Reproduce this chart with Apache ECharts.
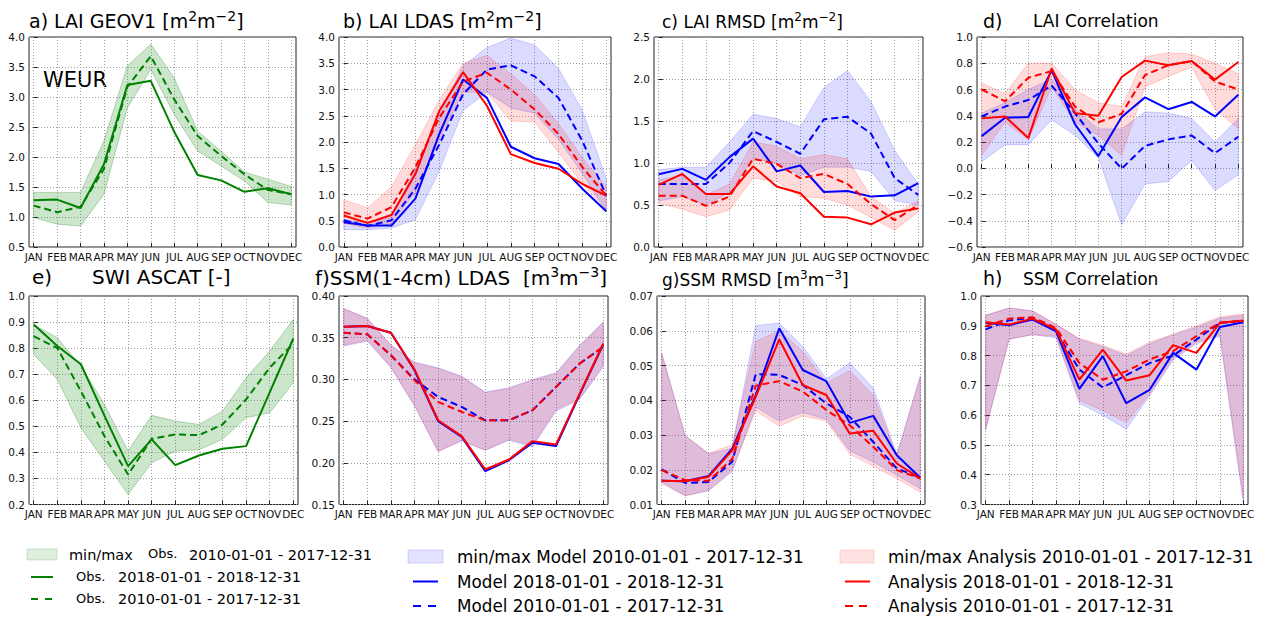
<!DOCTYPE html>
<html>
<head>
<meta charset="utf-8">
<script src="https://cdn.jsdelivr.net/npm/echarts@6/dist/echarts.min.js"></script>
<style>html,body{margin:0;padding:0;background:#fff;}#main{width:1263px;height:618px;}</style>
</head>
<body>
<div id="main"></div>
<script>
const MONTHS = ['JAN','FEB','MAR','APR','MAY','JUN','JUL','AUG','SEP','OCT','NOV','DEC'];

// a) LAI GEOV1
const aObsMin  = [0.99,0.88,0.85,1.38,2.82,3.46,2.71,2.10,1.85,1.60,1.24,1.20];
const aObsMax  = [1.41,1.41,1.41,2.27,3.52,3.88,3.32,2.43,2.10,1.75,1.63,1.51];
const aObs2018 = [1.28,1.29,1.15,1.88,3.20,3.27,2.42,1.70,1.61,1.42,1.48,1.38];
const aObsClim = [1.19,1.08,1.17,1.80,3.17,3.68,2.96,2.35,2.02,1.71,1.45,1.38];

// b) LAI LDAS
const bModMin  = [0.33,0.33,0.36,0.52,1.45,2.60,2.95,2.65,2.55,2.05,1.40,0.68];
const bModMax  = [0.52,0.47,0.56,1.50,2.50,3.45,3.80,3.98,3.85,3.40,2.60,1.30];
const bAnaMin  = [0.45,0.36,0.45,1.05,2.05,2.95,2.95,2.40,2.38,1.80,1.20,0.72];
const bAnaMax  = [0.90,0.75,1.15,1.95,2.80,3.50,3.65,3.30,2.90,2.35,1.70,1.15];
const bMod2018 = [0.47,0.41,0.41,0.92,2.15,3.19,2.84,1.91,1.69,1.58,1.11,0.68];
const bModClim = [0.51,0.40,0.51,1.11,1.95,2.91,3.38,3.46,3.25,2.84,2.02,0.98];
const bAna2018 = [0.60,0.46,0.61,1.39,2.59,3.33,2.69,1.77,1.60,1.49,1.20,0.98];
const bAnaClim = [0.66,0.54,0.76,1.52,2.46,3.15,3.32,3.00,2.62,2.15,1.52,0.98];

// c) LAI RMSD
const cModMin  = [0.55,0.60,0.50,0.65,1.05,1.00,0.85,0.95,0.95,0.90,0.55,0.50];
const cModMax  = [0.92,0.95,0.95,1.25,1.58,1.53,1.43,1.90,2.10,1.73,1.15,0.75];
const cAnaMin  = [0.52,0.45,0.36,0.44,0.82,0.78,0.60,0.58,0.50,0.35,0.20,0.42];
const cAnaMax  = [0.80,0.85,0.62,0.75,1.25,1.20,1.05,1.10,1.05,0.60,0.40,0.55];
const cMod2018 = [0.865,0.93,0.80,1.07,1.29,0.90,0.97,0.655,0.667,0.60,0.615,0.76];
const cModClim = [0.75,0.75,0.75,1.00,1.38,1.25,1.11,1.52,1.55,1.35,0.82,0.62];
const cAna2018 = [0.74,0.87,0.63,0.63,0.96,0.72,0.64,0.36,0.35,0.27,0.41,0.46];
const cAnaClim = [0.61,0.61,0.49,0.60,1.05,0.99,0.82,0.87,0.75,0.51,0.32,0.50];

// d) LAI Correlation
const dModMin  = [0.05,0.18,0.18,0.37,0.25,0.08,-0.43,-0.12,-0.10,0.06,-0.17,-0.05];
const dModMax  = [0.42,0.50,0.60,0.68,0.45,0.30,0.30,0.43,0.42,0.38,0.20,0.38];
const dAnaMin  = [0.10,0.35,0.22,0.62,0.35,0.25,0.10,0.62,0.70,0.77,0.45,0.30];
const dAnaMax  = [0.65,0.57,0.80,0.80,0.60,0.50,0.47,0.85,0.88,0.87,0.80,0.72];
const dMod2018 = [0.245,0.385,0.39,0.746,0.335,0.093,0.39,0.54,0.45,0.505,0.395,0.56];
const dModClim = [0.395,0.47,0.52,0.63,0.42,0.19,-0.003,0.17,0.22,0.25,0.115,0.24];
const dAna2018 = [0.38,0.395,0.23,0.76,0.42,0.40,0.695,0.82,0.785,0.817,0.675,0.81];
const dAnaClim = [0.60,0.51,0.69,0.74,0.47,0.35,0.415,0.71,0.785,0.817,0.66,0.60];

// e) SWI ASCAT
const eObsMin  = [0.776,0.68,0.494,0.366,0.238,0.36,0.405,0.41,0.45,0.533,0.552,0.667];
const eObsMax  = [0.89,0.84,0.73,0.584,0.405,0.542,0.52,0.507,0.558,0.686,0.789,0.91];
const eObs2018 = [0.891,0.808,0.738,0.54,0.347,0.45,0.351,0.388,0.414,0.424,0.63,0.837];
const eObsClim = [0.846,0.80,0.635,0.462,0.315,0.452,0.469,0.466,0.507,0.603,0.725,0.817];

// f) SSM(1-4cm) LDAS
const fModMin  = [0.340,0.346,0.314,0.268,0.214,0.226,0.215,0.227,0.219,0.262,0.276,0.315];
const fModMax  = [0.385,0.373,0.341,0.321,0.314,0.304,0.285,0.290,0.300,0.308,0.341,0.369];
const fAnaMin  = [0.341,0.347,0.315,0.269,0.213,0.227,0.215,0.228,0.221,0.264,0.277,0.317];
const fAnaMax  = [0.385,0.373,0.341,0.320,0.313,0.303,0.284,0.289,0.299,0.307,0.340,0.368];
const fMod2018 = [0.363,0.364,0.356,0.311,0.250,0.231,0.190,0.203,0.224,0.220,0.282,0.342];
const fModClim = [0.356,0.354,0.329,0.300,0.279,0.267,0.251,0.251,0.263,0.291,0.319,0.339];
const fAna2018 = [0.363,0.364,0.356,0.312,0.251,0.232,0.192,0.204,0.226,0.222,0.283,0.343];
const fAnaClim = [0.356,0.354,0.329,0.299,0.273,0.261,0.251,0.251,0.263,0.291,0.319,0.339];

// g) SSM RMSD
const gModMin  = [0.0165,0.0125,0.0140,0.0195,0.0380,0.0340,0.0365,0.0345,0.0255,0.0222,0.0185,0.0145];
const gModMax  = [0.0535,0.0298,0.0245,0.0262,0.0615,0.0622,0.0555,0.0462,0.0507,0.0435,0.0245,0.0470];
const gAnaMin  = [0.0160,0.0125,0.0140,0.0200,0.0370,0.0325,0.0355,0.0340,0.0245,0.0210,0.0175,0.0135];
const gAnaMax  = [0.0535,0.0298,0.0248,0.0272,0.0570,0.0600,0.0540,0.0450,0.0485,0.0415,0.0240,0.0465];
const gMod2018 = [0.0168,0.0167,0.0182,0.0261,0.0415,0.0607,0.0487,0.0455,0.0335,0.0355,0.0242,0.0177];
const gModClim = [0.0201,0.0162,0.0165,0.0223,0.0475,0.0473,0.0444,0.0391,0.0352,0.0280,0.0204,0.0177];
const gAna2018 = [0.0168,0.0167,0.0180,0.0256,0.0410,0.0575,0.0444,0.0415,0.0304,0.0312,0.0218,0.0175];
const gAnaClim = [0.0199,0.0170,0.0168,0.0231,0.0442,0.0455,0.0425,0.0372,0.0328,0.0266,0.0199,0.0175];

// h) SSM Correlation
const hModMin  = [0.550,0.855,0.870,0.860,0.640,0.600,0.553,0.665,0.785,0.840,0.865,0.305];
const hModMax  = [0.935,0.960,0.950,0.905,0.855,0.830,0.800,0.840,0.870,0.895,0.925,0.935];
const hAnaMin  = [0.555,0.855,0.870,0.865,0.650,0.615,0.575,0.670,0.790,0.845,0.870,0.320];
const hAnaMax  = [0.935,0.960,0.950,0.905,0.858,0.835,0.805,0.845,0.872,0.900,0.930,0.940];
const hMod2018 = [0.910,0.902,0.921,0.882,0.688,0.798,0.640,0.685,0.809,0.753,0.896,0.912];
const hModClim = [0.888,0.918,0.927,0.882,0.753,0.693,0.734,0.775,0.800,0.854,0.910,0.916];
const hAna2018 = [0.912,0.904,0.924,0.888,0.719,0.820,0.716,0.734,0.835,0.809,0.910,0.918];
const hAnaClim = [0.899,0.924,0.929,0.893,0.775,0.719,0.747,0.787,0.815,0.865,0.910,0.916];

// ---------- styling / layout ----------
const FONT = '"DejaVu Sans", sans-serif';
const COL = {g:'rgb(0,128,0)', b:'#0000ff', r:'#ff0000'};
const BAND = {
  g:{fill:'rgba(0,128,0,0.2)', stroke:'rgba(0,110,0,0.25)'},
  b:{fill:'rgba(0,0,255,0.14)', stroke:'rgba(0,0,255,0.16)'},
  r:{fill:'rgba(255,0,0,0.14)', stroke:'rgba(255,0,0,0.16)'}
};
const PATCH = {
  g:{fill:'rgba(0,128,0,0.13)', stroke:'rgba(0,110,0,0.15)'},
  b:{fill:'rgba(0,0,255,0.11)', stroke:'rgba(0,0,255,0.14)'},
  r:{fill:'rgba(255,0,0,0.11)', stroke:'rgba(255,0,0,0.14)'}
};
const DASH = [7,4];

const panels = [
  {grid:{left:29,top:37,width:267,height:210}, ymin:0.5, ymax:4.0, yint:0.5, dec:1,
   bands:[[aObsMin,aObsMax,'g']], lines:[[aObs2018,'g',false],[aObsClim,'g',true]]},
  {grid:{left:339,top:37,width:272,height:210}, ymin:0, ymax:4.0, yint:0.5, dec:1,
   bands:[[bModMin,bModMax,'b'],[bAnaMin,bAnaMax,'r']],
   lines:[[bMod2018,'b',false],[bModClim,'b',true],[bAna2018,'r',false],[bAnaClim,'r',true]]},
  {grid:{left:654,top:37,width:269,height:210}, ymin:0, ymax:2.5, yint:0.5, dec:1,
   bands:[[cModMin,cModMax,'b'],[cAnaMin,cAnaMax,'r']],
   lines:[[cMod2018,'b',false],[cModClim,'b',true],[cAna2018,'r',false],[cAnaClim,'r',true]]},
  {grid:{left:977,top:37,width:266,height:210}, ymin:-0.6, ymax:1.0, yint:0.2, dec:1,
   bands:[[dModMin,dModMax,'b'],[dAnaMin,dAnaMax,'r']],
   lines:[[dMod2018,'b',false],[dModClim,'b',true],[dAna2018,'r',false],[dAnaClim,'r',true]]},
  {grid:{left:29,top:296,width:269,height:208.5}, ymin:0.2, ymax:1.0, yint:0.1, dec:1,
   bands:[[eObsMin,eObsMax,'g']], lines:[[eObs2018,'g',false],[eObsClim,'g',true]]},
  {grid:{left:339,top:296,width:269,height:208.5}, ymin:0.15, ymax:0.40, yint:0.05, dec:2,
   bands:[[fModMin,fModMax,'b'],[fAnaMin,fAnaMax,'r']],
   lines:[[fMod2018,'b',false],[fModClim,'b',true],[fAna2018,'r',false],[fAnaClim,'r',true]]},
  {grid:{left:657,top:296,width:268,height:208.5}, ymin:0.01, ymax:0.07, yint:0.01, dec:2,
   bands:[[gModMin,gModMax,'b'],[gAnaMin,gAnaMax,'r']],
   lines:[[gMod2018,'b',false],[gModClim,'b',true],[gAna2018,'r',false],[gAnaClim,'r',true]]},
  {grid:{left:981,top:296,width:267,height:208.5}, ymin:0.3, ymax:1.0, yint:0.1, dec:1,
   bands:[[hModMin,hModMax,'b'],[hAnaMin,hAnaMax,'r']],
   lines:[[hMod2018,'b',false],[hModClim,'b',true],[hAna2018,'r',false],[hAnaClim,'r',true]]}
];

const monthIdx = MONTHS.map((m,i)=>i);
const grids = [], xAxes = [], yAxes = [], series = [];

panels.forEach((p, k) => {
  grids.push(Object.assign({show:true, borderColor:'#222', borderWidth:1, backgroundColor:'transparent'}, p.grid));
  xAxes.push({
    gridIndex:k, type:'value', min:-0.2, max:11.2,
    axisLine:{show:false},
    axisTick:{show:true, inside:true, length:4, customValues:monthIdx, lineStyle:{color:'#222'}},
    axisLabel:{customValues:monthIdx, formatter:v=>MONTHS[Math.round(v)], fontSize:10.5, fontFamily:FONT, color:'#111', margin:4},
    splitLine:{show:true, lineStyle:{color:'#a0a0a0', type:[1,2], width:1}}
  });
  yAxes.push({
    gridIndex:k, type:'value', min:p.ymin, max:p.ymax, interval:p.yint,
    axisLine:{show:false},
    axisTick:{show:true, inside:true, length:4, lineStyle:{color:'#222'}},
    axisLabel:{formatter:v=>(v<-1e-9?'\u2212':'')+Math.abs(v).toFixed(p.dec), fontSize:10.5, fontFamily:FONT, color:'#111', margin:4},
    splitLine:{show:true, lineStyle:{color:'#a0a0a0', type:[1,2], width:1}}
  });
  p.bands.forEach(([lo, hi, c]) => {
    series.push({
      type:'custom', xAxisIndex:k, yAxisIndex:k, silent:true, z:1,
      data: monthIdx.map(i => [i, lo[i], hi[i]]),
      encode:{x:0, y:[1,2]},
      renderItem: function(params, api) {
        if (params.dataIndex !== 0) return null;
        const pts = [];
        for (let i = 0; i < lo.length; i++) pts.push(api.coord([i, hi[i]]));
        for (let i = lo.length - 1; i >= 0; i--) pts.push(api.coord([i, lo[i]]));
        return {type:'polygon', shape:{points:pts}, style:{fill:BAND[c].fill, stroke:BAND[c].stroke, lineWidth:1}};
      }
    });
  });
  p.lines.forEach(([arr, c, dashed]) => {
    series.push({
      type:'line', xAxisIndex:k, yAxisIndex:k, silent:true, z:3,
      data: arr.map((v,i)=>[i,v]), symbol:'none',
      lineStyle:{color:COL[c], width:2, type: dashed ? DASH : 'solid'}
    });
  });
});

// ---------- titles, annotation, legend (graphic) ----------
function txt(x, y, s, size, rich) {
  const st = {text:s, font: size + 'px ' + FONT, fill:'#000', align:'left', verticalAlign:'middle'};
  if (rich) {
    st.lineHeight = Math.round(size * 1.3);
    st.rich = {
      s:{fontSize: Math.round(size * 0.72), fontFamily: FONT, verticalAlign:'top', fill:'#000', lineHeight: Math.round(size*0.9)}
    };
  }
  return {type:'text', x:x, y:y, silent:true, style:st};
}
const g = [];
g.push(txt(29, 21, 'a) LAI GEOV1 [m{s|2}m{s|\u22122}]', 19, true));
g.push(txt(343, 21, 'b) LAI LDAS [m{s|2}m{s|\u22122}]', 19, true));
g.push(txt(662, 22, 'c) LAI RMSD [m{s|2}m{s|\u22122}]', 17, true));
g.push(txt(983, 20.5, 'd)', 19));
g.push(txt(1033, 21, 'LAI Correlation', 17));
g.push(txt(32, 277, 'e)', 20));
g.push(txt(92, 277, 'SWI ASCAT [-]', 20));
g.push(txt(315, 277.5, 'f)SSM(1-4cm) LDAS  [m{s|3}m{s|\u22123}]', 20, true));
g.push(txt(662, 279.5, 'g)SSM RMSD [m{s|3}m{s|\u22123}]', 17, true));
g.push(txt(983, 278, 'h)', 19));
g.push(txt(1023, 278.5, 'SSM Correlation', 17));
g.push(txt(43, 80, 'WEUR', 21));

function patch(x, y, w, h, c) {
  return {type:'rect', silent:true, shape:{x:x, y:y, width:w, height:h}, style:{fill:PATCH[c].fill, stroke:PATCH[c].stroke, lineWidth:1}};
}
function lseg(x1, x2, y, c, dash) {
  return {type:'line', silent:true, shape:{x1:x1, y1:y, x2:x2, y2:y}, style:{stroke:COL[c], lineWidth:2, lineDash: dash || null}};
}
// Obs column
g.push(patch(27, 549, 30, 11, 'g'));
g.push(txt(69, 554.5, 'min/max', 14.5));
g.push(txt(148, 553.5, 'Obs.', 13));
g.push(txt(189, 554.5, '2010-01-01 - 2017-12-31', 14.5));
g.push(lseg(31, 53, 577, 'g'));
g.push(txt(76, 576, 'Obs.', 13));
g.push(txt(118, 577, '2018-01-01 - 2018-12-31', 14.5));
g.push(lseg(31, 52, 599, 'g', [7,7]));
g.push(txt(76, 598, 'Obs.', 13));
g.push(txt(118, 599, '2010-01-01 - 2017-12-31', 14.5));
// Model column
g.push(patch(408, 550, 35, 13, 'b'));
g.push(txt(457, 556.5, 'min/max Model 2010-01-01 - 2017-12-31', 16.8));
g.push(lseg(413, 438, 581.5, 'b'));
g.push(txt(457, 581.5, 'Model 2018-01-01 - 2018-12-31', 16.8));
g.push(lseg(413, 437, 606, 'b', [8,7]));
g.push(txt(457, 606, 'Model 2010-01-01 - 2017-12-31', 16.8));
// Analysis column
g.push(patch(840, 550, 34, 13, 'r'));
g.push(txt(888, 556.5, 'min/max Analysis 2010-01-01 - 2017-12-31', 16.8));
g.push(lseg(845, 870, 581.5, 'r'));
g.push(txt(888, 581.5, 'Analysis 2018-01-01 - 2018-12-31', 16.8));
g.push(lseg(845, 868, 606, 'r', [8,6]));
g.push(txt(888, 606, 'Analysis 2010-01-01 - 2017-12-31', 16.8));

const chart = echarts.init(document.getElementById('main'), null, {renderer:'svg', width:1263, height:618});
chart.setOption({
  animation:false,
  backgroundColor:'#ffffff',
  textStyle:{fontFamily:FONT},
  grid:grids, xAxis:xAxes, yAxis:yAxes, series:series,
  graphic:g
});
</script>
</body>
</html>
